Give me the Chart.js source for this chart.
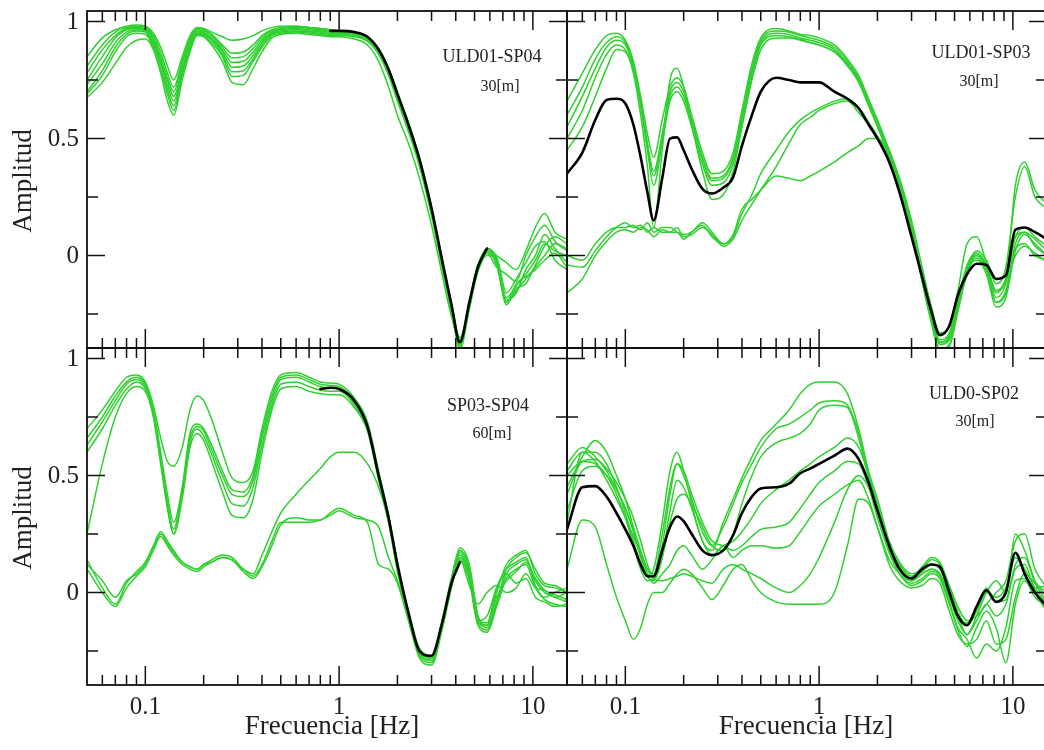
<!DOCTYPE html>
<html>
<head>
<meta charset="utf-8">
<script src="https://cdn.jsdelivr.net/npm/chart.js@4.4.1/dist/chart.umd.min.js"></script>
<style>
  html, body { margin: 0; padding: 0; background: #fff; overflow: hidden; }
  #wrap { position: relative; width: 1044px; height: 750px; }
  #wrap canvas { position: absolute; left: 0; top: 0; }
</style>
</head>
<body>
<div id="wrap">
  <canvas id="tl" width="1050" height="750"></canvas>
  <canvas id="tr" width="1050" height="750"></canvas>
  <canvas id="bl" width="1050" height="750"></canvas>
  <canvas id="br" width="1050" height="750"></canvas>
</div>
<script>
// frequency grid shared by every curve (Hz)
const freqHz = [
  0.05, 0.06, 0.07, 0.08, 0.09, 0.1, 0.11, 0.12, 0.13, 0.14,
  0.155, 0.17, 0.185, 0.2, 0.22, 0.25, 0.28, 0.32, 0.36, 0.4,
  0.45, 0.5, 0.6, 0.7, 0.8, 0.9, 1.0, 1.2, 1.4, 1.6,
  1.8, 2.0, 2.3, 2.6, 3.0, 3.4, 3.8, 4.2, 4.7, 5.2,
  5.8, 6.5, 7.3, 8.2, 9.2, 10.3, 11.5, 13, 15
];

const xMajorTicks = [0.1, 1, 10];
const xMinorTicks = [0.06, 0.07, 0.08, 0.09, 0.2, 0.3, 0.4, 0.5, 0.6, 0.7, 0.8, 0.9, 2, 3, 4, 5, 6, 7, 8, 9];
const xTickLabels = ["0.1", "1", "10"];
const yMajorTicks = [0, 0.5, 1];
const yMinorTicks = [-0.25, 0.25, 0.75];
const yTickLabels = ["0", "0.5", "1"];

// ---- ULD01-SP04 (top left)
const tlGreen1 = [0.85,0.93,0.965,0.98,0.985,0.98,0.95,0.89,0.81,0.75, 0.85,0.94,0.975,0.97,0.955,0.935,0.92,0.925,0.94,0.96, 0.975,0.98,0.98,0.975,0.97,0.965,0.96,0.955,0.935,0.885, 0.8,0.7,0.56,0.42,0.21,-0.01,-0.2,-0.35,-0.22,-0.06, 0.03,0.0,-0.03,-0.06,0.02,0.12,0.18,0.1,0.07];
const tlGreen2 = [0.81,0.9,0.955,0.975,0.98,0.975,0.94,0.87,0.78,0.72, 0.83,0.93,0.97,0.965,0.945,0.9,0.865,0.87,0.9,0.94, 0.965,0.975,0.98,0.975,0.97,0.965,0.96,0.955,0.93,0.88, 0.8,0.69,0.55,0.41,0.2,-0.02,-0.21,-0.37,-0.21,-0.05, 0.03,-0.01,-0.18,-0.13,-0.08,-0.02,0.05,0.02,0.0];
const tlGreen3 = [0.78,0.88,0.94,0.97,0.975,0.97,0.93,0.85,0.76,0.7, 0.82,0.92,0.965,0.96,0.94,0.89,0.845,0.85,0.885,0.93, 0.96,0.97,0.975,0.97,0.965,0.96,0.96,0.955,0.93,0.88, 0.79,0.68,0.54,0.4,0.19,-0.03,-0.22,-0.38,-0.2,-0.04, 0.02,-0.02,-0.2,-0.15,-0.1,-0.05,0.0,0.05,0.03];
const tlGreen4 = [0.75,0.85,0.93,0.965,0.97,0.965,0.92,0.84,0.75,0.68, 0.8,0.91,0.96,0.955,0.93,0.88,0.825,0.83,0.87,0.92, 0.955,0.965,0.97,0.965,0.96,0.955,0.955,0.95,0.93,0.875, 0.79,0.68,0.54,0.4,0.19,-0.03,-0.22,-0.39,-0.22,-0.05, 0.03,-0.03,-0.21,-0.14,-0.12,-0.04,0.04,0.08,0.05];
const tlGreen5 = [0.73,0.82,0.91,0.955,0.965,0.96,0.91,0.83,0.73,0.66, 0.79,0.9,0.955,0.95,0.925,0.87,0.805,0.81,0.855,0.91, 0.95,0.96,0.965,0.96,0.955,0.95,0.95,0.945,0.925,0.87, 0.78,0.67,0.53,0.39,0.18,-0.04,-0.23,-0.38,-0.21,-0.06, 0.01,-0.02,-0.19,-0.16,-0.06,0.0,0.09,0.03,-0.03];
const tlGreen6 = [0.7,0.79,0.89,0.945,0.96,0.955,0.9,0.82,0.71,0.64, 0.78,0.89,0.95,0.945,0.92,0.86,0.785,0.79,0.84,0.9, 0.945,0.955,0.96,0.955,0.95,0.945,0.945,0.94,0.92,0.865, 0.78,0.67,0.53,0.39,0.18,-0.04,-0.23,-0.4,-0.23,-0.06, 0.02,-0.04,-0.2,-0.12,-0.09,-0.06,-0.02,0.01,-0.05];
const tlGreen7 = [0.69,0.77,0.87,0.935,0.95,0.945,0.89,0.8,0.69,0.62, 0.77,0.88,0.945,0.94,0.91,0.85,0.765,0.77,0.83,0.89, 0.94,0.95,0.955,0.95,0.945,0.94,0.94,0.935,0.915,0.86, 0.77,0.66,0.52,0.38,0.17,-0.05,-0.24,-0.39,-0.22,-0.07, 0.0,-0.01,-0.16,-0.1,-0.03,0.04,0.06,-0.02,-0.06];
const tlGreen8 = [0.675,0.74,0.82,0.89,0.92,0.925,0.88,0.78,0.66,0.6, 0.75,0.87,0.94,0.935,0.9,0.83,0.74,0.73,0.8,0.87, 0.93,0.945,0.95,0.945,0.94,0.935,0.935,0.925,0.9,0.83, 0.72,0.6,0.47,0.33,0.13,-0.08,-0.26,-0.36,-0.2,-0.04, 0.01,-0.05,-0.08,-0.11,0.0,0.08,0.13,0.06,0.02];
const tlBlack = [null,null,null,null,null,null,null,null,null,null, null,null,null,null,null,null,null,null,null,null, null,null,null,null,null,0.96,0.96,0.955,0.935,0.88, 0.795,0.69,0.55,0.41,0.2,-0.02,-0.21,-0.37,-0.2,-0.05, 0.03,null,null,null,null,null,null,null,null];

// ---- ULD01-SP03 (top right)
const trGreen1 = [0.66,0.78,0.88,0.94,0.95,0.92,0.83,0.68,0.52,0.42, 0.58,0.72,0.76,0.72,0.6,0.44,0.35,0.36,0.44,0.62, 0.82,0.93,0.97,0.96,0.945,0.94,0.93,0.9,0.84,0.77, 0.67,0.58,0.45,0.32,0.13,-0.08,-0.25,-0.37,-0.34,-0.2, -0.05,0.02,-0.02,-0.12,-0.05,0.25,0.38,0.25,0.2];
const trGreen2 = [0.6,0.72,0.84,0.91,0.935,0.91,0.82,0.66,0.48,0.36, 0.52,0.7,0.74,0.7,0.58,0.42,0.33,0.34,0.42,0.6, 0.8,0.92,0.96,0.955,0.94,0.93,0.92,0.89,0.83,0.76, 0.66,0.57,0.44,0.31,0.12,-0.09,-0.27,-0.38,-0.36,-0.22, -0.06,0.01,-0.04,-0.15,-0.1,0.08,0.12,0.08,0.04];
const trGreen3 = [0.55,0.68,0.8,0.89,0.92,0.9,0.81,0.65,0.47,0.34, 0.5,0.68,0.72,0.68,0.57,0.41,0.32,0.33,0.41,0.58, 0.78,0.91,0.95,0.945,0.93,0.92,0.91,0.88,0.82,0.75, 0.65,0.56,0.43,0.3,0.11,-0.1,-0.28,-0.4,-0.38,-0.23, -0.07,0.0,-0.06,-0.2,-0.16,0.05,0.1,0.07,0.02];
const trGreen4 = [0.5,0.62,0.76,0.86,0.9,0.88,0.8,0.64,0.45,0.3, 0.48,0.66,0.7,0.66,0.55,0.39,0.3,0.31,0.39,0.56, 0.76,0.9,0.94,0.935,0.925,0.91,0.9,0.87,0.81,0.74, 0.64,0.55,0.42,0.29,0.1,-0.11,-0.29,-0.41,-0.39,-0.24, -0.08,-0.01,-0.08,-0.22,-0.18,0.02,0.09,0.05,0.0];
const trGreen5 = [0.45,0.55,0.68,0.8,0.88,0.87,0.78,0.6,0.38,0.12, 0.45,0.75,0.8,0.72,0.56,0.36,0.24,0.26,0.36,0.55, 0.75,0.88,0.93,0.93,0.92,0.91,0.9,0.87,0.82,0.75, 0.66,0.57,0.45,0.33,0.15,-0.05,-0.22,-0.33,-0.3,-0.15, 0.05,0.08,-0.03,-0.15,-0.1,0.3,0.4,0.28,0.22];
const trGreen6 = [0.0,-0.02,0.05,0.1,0.12,0.12,0.13,0.11,0.14,0.1, 0.12,0.12,0.1,0.09,0.1,0.14,0.1,0.05,0.08,0.18, 0.26,0.35,0.45,0.53,0.58,0.61,0.63,0.66,0.67,0.63, 0.57,0.51,0.42,0.3,0.11,-0.1,-0.27,-0.37,-0.35,-0.2, -0.05,0.0,-0.05,-0.18,-0.12,0.08,0.1,0.04,0.0];
const trGreen7 = [-0.04,-0.05,0.02,0.08,0.12,0.14,0.12,0.13,0.1,0.12, 0.1,0.1,0.12,0.08,0.09,0.12,0.09,0.04,0.07,0.15, 0.22,0.28,0.38,0.48,0.56,0.59,0.62,0.65,0.66,0.61, 0.56,0.5,0.41,0.29,0.1,-0.11,-0.28,-0.38,-0.35,-0.21, -0.06,-0.02,-0.06,-0.2,-0.15,0.03,0.05,0.0,-0.02];
const trGreen8 = [-0.16,-0.1,0.0,0.06,0.1,0.11,0.1,0.12,0.11,0.08, 0.11,0.1,0.1,0.07,0.1,0.13,0.08,0.05,0.09,0.2, 0.24,0.28,0.34,0.33,0.32,0.34,0.36,0.4,0.44,0.47, 0.5,0.5,0.43,0.31,0.12,-0.09,-0.26,-0.36,-0.33,-0.19, -0.04,0.01,-0.04,-0.16,-0.11,0.0,0.04,0.01,-0.03];
const trBlack = [0.35,0.44,0.58,0.665,0.67,0.65,0.56,0.42,0.27,0.15, 0.33,0.5,0.505,0.45,0.37,0.285,0.265,0.29,0.335,0.47, 0.6,0.7,0.76,0.75,0.74,0.74,0.74,0.7,0.67,0.63, 0.56,0.5,0.4,0.27,0.08,-0.09,-0.24,-0.34,-0.3,-0.17, -0.08,-0.035,-0.04,-0.1,-0.085,0.11,0.12,0.1,0.07];

// ---- SP03-SP04 (bottom left)
const blGreen1 = [0.7,0.78,0.86,0.92,0.93,0.9,0.8,0.66,0.56,0.54, 0.62,0.78,0.84,0.82,0.74,0.6,0.49,0.47,0.52,0.7, 0.86,0.93,0.94,0.92,0.9,0.895,0.89,0.83,0.73,0.52, 0.33,0.13,-0.09,-0.24,-0.27,-0.12,0.06,0.19,0.12,-0.1, -0.15,-0.04,0.1,0.15,0.17,0.1,0.04,0.03,0.0];
const blGreen2 = [0.66,0.75,0.84,0.9,0.92,0.89,0.78,0.6,0.42,0.3, 0.45,0.68,0.72,0.7,0.63,0.52,0.44,0.43,0.5,0.68, 0.84,0.92,0.93,0.91,0.89,0.885,0.88,0.82,0.72,0.51, 0.33,0.12,-0.1,-0.25,-0.28,-0.13,0.05,0.18,0.1,-0.12, -0.16,-0.05,0.08,0.12,0.14,0.05,0.0,-0.02,-0.04];
const blGreen3 = [0.63,0.73,0.82,0.89,0.91,0.88,0.77,0.58,0.39,0.27, 0.44,0.66,0.71,0.69,0.61,0.5,0.42,0.41,0.48,0.66, 0.82,0.91,0.92,0.9,0.88,0.875,0.87,0.81,0.71,0.5, 0.32,0.11,-0.11,-0.26,-0.29,-0.14,0.04,0.17,0.08,-0.14, -0.17,-0.06,0.06,0.1,0.12,0.02,-0.03,-0.05,-0.06];
const blGreen4 = [0.6,0.7,0.8,0.87,0.9,0.87,0.76,0.56,0.37,0.25, 0.42,0.64,0.7,0.67,0.59,0.47,0.38,0.37,0.45,0.63, 0.8,0.89,0.9,0.88,0.865,0.86,0.86,0.8,0.7,0.49, 0.31,0.1,-0.12,-0.27,-0.3,-0.15,0.03,0.16,0.07,-0.13, -0.14,0.0,0.12,0.16,0.18,0.08,0.03,0.02,0.0];
const blGreen5 = [0.25,0.55,0.75,0.85,0.88,0.86,0.75,0.55,0.36,0.25, 0.4,0.62,0.68,0.65,0.56,0.43,0.33,0.32,0.4,0.6, 0.78,0.87,0.88,0.86,0.85,0.845,0.845,0.79,0.69,0.48, 0.3,0.09,-0.13,-0.28,-0.31,-0.16,0.02,0.15,0.06,-0.12, -0.13,0.02,0.1,0.13,0.15,0.03,-0.02,0.0,0.02];
const blGreen6 = [0.14,0.02,-0.05,0.04,0.09,0.13,0.2,0.26,0.22,0.18, 0.13,0.11,0.1,0.12,0.14,0.16,0.15,0.1,0.07,0.12, 0.22,0.3,0.3,0.3,0.31,0.33,0.35,0.32,0.31,0.28, 0.15,0.05,-0.12,-0.24,-0.27,-0.12,0.06,0.18,0.1,-0.1, -0.14,-0.02,0.05,0.09,0.13,0.06,0.01,-0.01,-0.03];
const blGreen7 = [0.1,0.0,-0.06,0.02,0.07,0.11,0.18,0.24,0.2,0.16, 0.12,0.1,0.09,0.11,0.13,0.15,0.14,0.09,0.06,0.11, 0.2,0.29,0.32,0.31,0.31,0.34,0.36,0.33,0.3,0.12, 0.1,0.04,-0.13,-0.25,-0.28,-0.13,0.04,0.15,0.05,-0.12, -0.1,0.02,0.08,0.04,0.06,-0.02,-0.04,-0.06,-0.05];
const blGreen8 = [0.12,0.05,-0.02,0.05,0.08,0.12,0.19,0.25,0.21,0.17, 0.13,0.11,0.1,0.12,0.13,0.15,0.14,0.1,0.08,0.16, 0.26,0.34,0.42,0.48,0.53,0.58,0.6,0.6,0.55,0.45, 0.3,0.1,-0.11,-0.26,-0.29,-0.14,0.03,0.14,0.03,-0.05, 0.0,0.03,0.0,0.02,0.08,0.02,0.01,-0.02,0.0];
const blBlack = [null,null,null,null,null,null,null,null,null,null, null,null,null,null,null,null,null,null,null,null, null,null,null,null,0.87,0.875,0.87,0.82,0.71,0.5, 0.32,0.12,-0.1,-0.25,-0.27,-0.13,0.04,0.13,null,null, null,null,null,null,null,null,null,null,null];

// ---- ULD0-SP02 (bottom right)
const brGreen1 = [0.3,0.6,0.6,0.55,0.45,0.34,0.22,0.12,0.07,0.1, 0.3,0.52,0.6,0.52,0.38,0.22,0.18,0.3,0.4,0.49, 0.58,0.65,0.72,0.78,0.85,0.89,0.9,0.9,0.85,0.7, 0.52,0.4,0.22,0.13,0.08,0.1,0.14,0.12,0.02,-0.08, -0.14,-0.08,0.0,-0.02,0.02,0.15,0.1,0.02,-0.05];
const brGreen2 = [0.55,0.62,0.58,0.52,0.44,0.36,0.27,0.17,0.1,0.08, 0.25,0.45,0.55,0.5,0.4,0.26,0.2,0.28,0.38,0.47, 0.55,0.62,0.7,0.72,0.75,0.78,0.81,0.82,0.8,0.68, 0.5,0.38,0.2,0.12,0.07,0.11,0.15,0.13,0.03,-0.06, -0.12,-0.1,-0.05,0.0,0.05,0.22,0.25,0.1,0.02];
const brGreen3 = [0.45,0.58,0.65,0.6,0.5,0.4,0.28,0.18,0.1,0.06, 0.15,0.3,0.4,0.42,0.38,0.28,0.2,0.18,0.25,0.38, 0.5,0.58,0.64,0.66,0.68,0.72,0.78,0.8,0.79,0.66, 0.49,0.36,0.19,0.11,0.06,0.09,0.12,0.1,0.0,-0.1, -0.18,-0.12,-0.05,-0.1,-0.05,0.1,0.12,0.0,-0.08];
const brGreen4 = [0.5,0.56,0.55,0.5,0.42,0.32,0.2,0.1,0.05,0.06, 0.2,0.42,0.55,0.52,0.42,0.3,0.22,0.2,0.18,0.2, 0.24,0.27,0.28,0.3,0.36,0.42,0.47,0.52,0.56,0.55, 0.45,0.32,0.17,0.08,0.03,0.05,0.08,0.06,-0.05,-0.16, -0.23,-0.15,-0.08,-0.15,-0.3,-0.05,0.05,-0.02,-0.06];
const brGreen5 = [0.52,0.6,0.56,0.48,0.4,0.32,0.24,0.16,0.08,0.04, 0.08,0.12,0.18,0.2,0.16,0.1,0.14,0.2,0.15,0.18, 0.2,0.2,0.19,0.2,0.26,0.32,0.37,0.42,0.46,0.48, 0.4,0.28,0.12,0.05,0.02,0.03,0.06,0.04,-0.08,-0.18, -0.22,-0.2,-0.12,-0.22,-0.2,-0.02,0.08,0.04,0.0];
const brGreen6 = [0.1,0.31,0.28,0.12,-0.02,-0.12,-0.2,-0.15,-0.05,0.0, 0.0,0.04,0.08,0.1,0.08,0.02,-0.03,0.03,0.1,0.12, 0.05,0.0,-0.04,-0.05,-0.05,-0.05,-0.05,0.0,0.2,0.4, 0.38,0.28,0.14,0.08,0.05,0.08,0.1,0.08,-0.02,-0.12, -0.18,-0.1,0.0,0.05,0.0,0.25,0.18,0.05,-0.02];
const brGreen7 = [0.42,0.56,0.57,0.53,0.47,0.4,0.32,0.22,0.12,0.06, 0.05,0.06,0.07,0.08,0.07,0.05,0.04,0.1,0.12,0.1, 0.08,0.06,0.02,0.0,0.03,0.08,0.15,0.3,0.44,0.5, 0.45,0.35,0.18,0.08,0.04,0.06,0.09,0.07,-0.04,-0.15, -0.2,-0.28,-0.22,-0.25,-0.15,0.05,0.06,0.02,0.03];
const brGreen8 = [0.35,0.52,0.54,0.5,0.44,0.36,0.26,0.15,0.07,0.05, 0.15,0.35,0.48,0.45,0.36,0.22,0.16,0.2,0.22,0.26, 0.32,0.38,0.44,0.48,0.52,0.55,0.58,0.62,0.66,0.62, 0.5,0.36,0.2,0.1,0.05,0.08,0.1,0.08,-0.02,-0.1, -0.13,-0.06,0.02,-0.04,-0.03,0.12,0.15,0.04,-0.04];
const brBlack = [0.27,0.45,0.455,0.41,0.34,0.27,0.2,0.12,0.07,0.07, 0.18,0.28,0.325,0.305,0.25,0.18,0.16,0.18,0.245,0.34, 0.41,0.445,0.45,0.465,0.51,0.53,0.55,0.585,0.615,0.57, 0.47,0.35,0.2,0.1,0.06,0.1,0.12,0.11,0.0,-0.1, -0.14,-0.06,0.01,-0.04,0.0,0.17,0.08,0.0,-0.06];

const CANVAS_W = 1050;
const CANVAS_H = 750;
const GREEN = "rgb(46,208,46)";
const SERIF = "'Liberation Serif', 'DejaVu Serif', serif";

function toPoints(values) {
  return freqHz.map((f, i) => ({ x: f, y: values[i] }));
}

function framePlugin(cfg) {
  return {
    id: "frame",
    afterDatasetsDraw(chart) {
      const { ctx, chartArea: a, scales: { x, y } } = chart;
      ctx.save();
      ctx.strokeStyle = "#111";
      ctx.lineWidth = 1.5;
      ctx.beginPath();
      const seg = (x1, y1, x2, y2) => { ctx.moveTo(x1, y1); ctx.lineTo(x2, y2); };
      for (const t of xMajorTicks) {
        const p = x.getPixelForValue(t);
        seg(p, a.bottom, p, a.bottom - 19);
        seg(p, a.top, p, a.top + 19);
      }
      for (const t of xMinorTicks) {
        const p = x.getPixelForValue(t);
        seg(p, a.bottom, p, a.bottom - 10);
        seg(p, a.top, p, a.top + 10);
      }
      for (const t of yMajorTicks) {
        const p = y.getPixelForValue(t);
        seg(a.left, p, a.left + 18, p);
        seg(a.right, p, a.right - 18, p);
      }
      for (const t of yMinorTicks) {
        const p = y.getPixelForValue(t);
        seg(a.left, p, a.left + 11, p);
        seg(a.right, p, a.right - 11, p);
      }
      ctx.stroke();
      ctx.lineWidth = 1.8;
      ctx.strokeRect(a.left, a.top, a.right - a.left, a.bottom - a.top);

      ctx.fillStyle = "#222";
      if (cfg.yLabels) {
        ctx.font = "25px " + SERIF;
        ctx.textAlign = "right";
        ctx.textBaseline = "middle";
        yMajorTicks.forEach((t, i) => ctx.fillText(yTickLabels[i], a.left - 8, y.getPixelForValue(t) + 1));
        ctx.save();
        ctx.font = "27px " + SERIF;
        ctx.textAlign = "center";
        ctx.translate(24, cfg.yTitleAt);
        ctx.rotate(-Math.PI / 2);
        ctx.fillText("Amplitud", 0, 0);
        ctx.restore();
      }
      if (cfg.xLabels) {
        ctx.font = "25px " + SERIF;
        ctx.textAlign = "center";
        ctx.textBaseline = "middle";
        xMajorTicks.forEach((t, i) => ctx.fillText(xTickLabels[i], x.getPixelForValue(t), 707));
        ctx.font = "27px " + SERIF;
        ctx.fillText("Frecuencia [Hz]", cfg.xTitleAt, 727);
      }
      ctx.textAlign = "center";
      ctx.textBaseline = "middle";
      ctx.font = "18px " + SERIF;
      ctx.fillText(cfg.name, cfg.nameX, cfg.nameY);
      ctx.font = "16px " + SERIF;
      ctx.fillText(cfg.dist, cfg.distX, cfg.distY);
      ctx.restore();
    }
  };
}

function makePanel(id, greens, black, box, cfg) {
  const datasets = [{
    data: toPoints(black),
    borderColor: "#000",
    borderWidth: 2.6,
    order: 0
  }];
  greens.forEach((g) => datasets.push({
    data: toPoints(g),
    borderColor: GREEN,
    borderWidth: 1.5,
    order: 1
  }));
  return new Chart(document.getElementById(id), {
    type: "line",
    data: { datasets },
    options: {
      responsive: false,
      animation: false,
      devicePixelRatio: 1,
      spanGaps: false,
      layout: {
        padding: { left: box.left, top: box.top, right: CANVAS_W - box.right, bottom: CANVAS_H - box.bottom }
      },
      elements: {
        point: { radius: 0 },
        line: { cubicInterpolationMode: "monotone", borderCapStyle: "round", borderJoinStyle: "round" }
      },
      plugins: { legend: { display: false }, tooltip: { enabled: false } },
      scales: {
        x: { type: "logarithmic", min: 0.05, max: 15, display: false },
        y: { type: "linear", min: -0.395, max: 1.045, display: false }
      }
    },
    plugins: [framePlugin(cfg)]
  });
}

makePanel("tl",
  [tlGreen1, tlGreen2, tlGreen3, tlGreen4, tlGreen5, tlGreen6, tlGreen7, tlGreen8], tlBlack,
  { left: 87, right: 567, top: 11, bottom: 348 },
  { yLabels: true, yTitleAt: 181, xLabels: false, name: "ULD01-SP04", nameX: 492, nameY: 57, dist: "30[m]", distX: 500, distY: 87 });

makePanel("tr",
  [trGreen1, trGreen2, trGreen3, trGreen4, trGreen5, trGreen6, trGreen7, trGreen8], trBlack,
  { left: 567, right: 1047, top: 11, bottom: 348 },
  { yLabels: false, xLabels: false, name: "ULD01-SP03", nameX: 981, nameY: 53, dist: "30[m]", distX: 979, distY: 82 });

makePanel("bl",
  [blGreen1, blGreen2, blGreen3, blGreen4, blGreen5, blGreen6, blGreen7, blGreen8], blBlack,
  { left: 87, right: 567, top: 348, bottom: 685 },
  { yLabels: true, yTitleAt: 518, xLabels: true, xTitleAt: 332, name: "SP03-SP04", nameX: 488, nameY: 406, dist: "60[m]", distX: 492, distY: 434 });

makePanel("br",
  [brGreen1, brGreen2, brGreen3, brGreen4, brGreen5, brGreen6, brGreen7, brGreen8], brBlack,
  { left: 567, right: 1047, top: 348, bottom: 685 },
  { yLabels: false, xLabels: true, xTitleAt: 806, name: "ULD0-SP02", nameX: 974, nameY: 394, dist: "30[m]", distX: 975, distY: 422 });
</script>
</body>
</html>
